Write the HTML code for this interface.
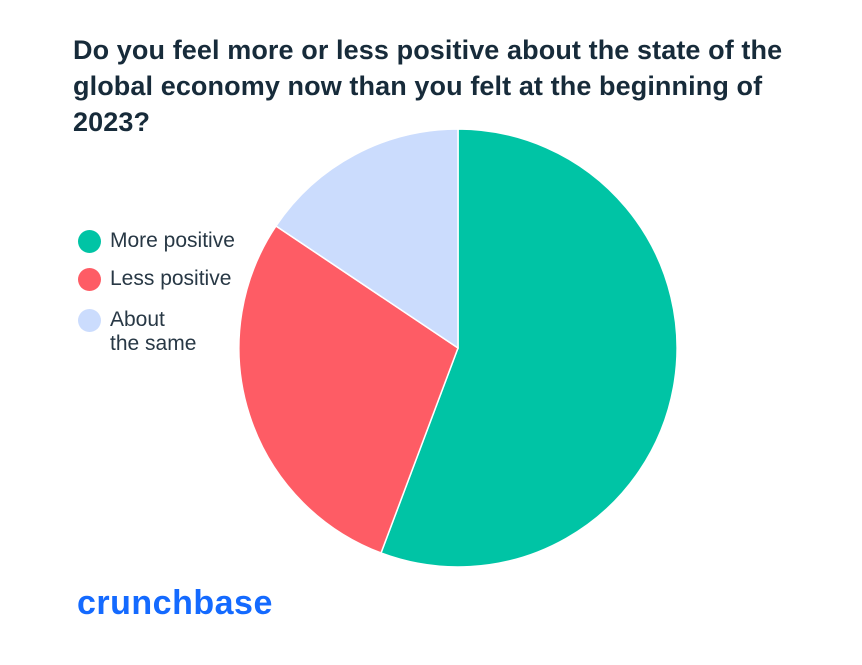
<!DOCTYPE html>
<html><head><meta charset="utf-8"><style>
body{margin:0;width:862px;height:665px;background:#fff;overflow:hidden;position:relative;font-family:"Liberation Sans",sans-serif}
.t{position:absolute;left:73px;top:32px;white-space:nowrap;font-size:27px;font-weight:bold;line-height:36px;color:#172b3a;letter-spacing:0.1px}
.lg{position:absolute;left:110px;font-size:21px;color:#283845;line-height:24px}
.dot{position:absolute;left:78px;width:23px;height:23px;border-radius:50%}
.logo{position:absolute;left:77px;top:584px;font-size:34px;font-weight:bold;color:#146aff;letter-spacing:0.5px}
</style></head><body>
<div class="t">Do you feel more or less positive about the state of the<br>global economy now than you felt at the beginning of<br>2023?</div>
<svg width="862" height="665" style="position:absolute;left:0;top:0">
<g stroke="#fff" stroke-width="1.5">
<path d="M458,348 L458,129 A219,219 0 1 1 381,553 Z" fill="#00c4a5"/>
<path d="M458,348 L381,553 A219,219 0 0 1 276,226 Z" fill="#fe5c65"/>
<path d="M458,348 L276,226 A219,219 0 0 1 458,129 Z" fill="#cbdcfd"/>
</g></svg>
<div class="dot" style="top:230px;background:#00c4a5"></div><div class="lg" style="top:229px">More positive</div>
<div class="dot" style="top:268px;background:#fe5c65"></div><div class="lg" style="top:267px">Less positive</div>
<div class="dot" style="top:309px;background:#cbdcfd"></div><div class="lg" style="top:308px">About<br>the same</div>
<div class="logo">crunchbase</div>
</body></html>
